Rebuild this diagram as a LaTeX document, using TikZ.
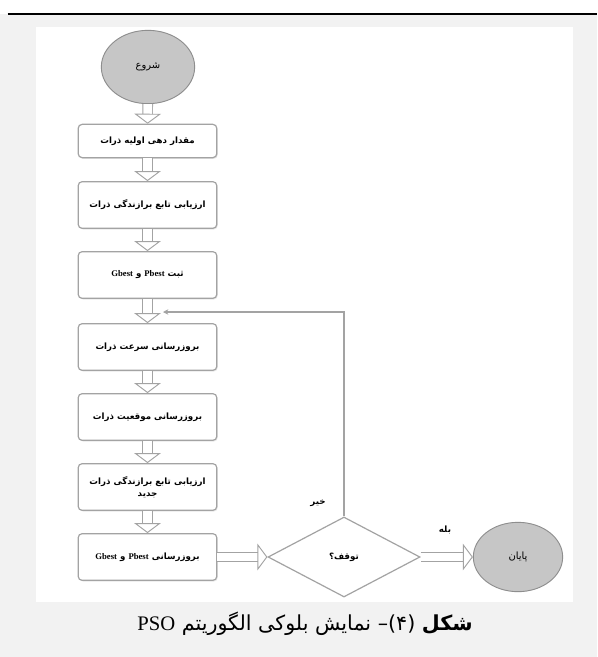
\documentclass[tikz,border=0pt]{standalone}
\usepackage{fontspec}
\setmainfont{Liberation Serif}
\newfontfamily\farsi[Script=Arabic]{DejaVu Sans}
\TeXXeTstate=1
\usetikzlibrary{shapes.geometric,arrows.meta,shadows}

\definecolor{pagegray}{HTML}{F2F2F2}
\definecolor{linegray}{HTML}{A3A3A3}
\definecolor{termfill}{HTML}{C6C6C6}
\definecolor{termline}{HTML}{8E8E8E}

\newcommand{\enword}[1]{{\rmfamily\bfseries\beginL #1\endL}}

\tikzset{
  block/.style={draw=linegray, line width=0.9pt, rounded corners=3pt, fill=white,
    minimum width=104pt, minimum height=35pt, align=center,
    font=\farsi\fontsize{6.5}{9}\selectfont\bfseries,
    drop shadow={shadow xshift=0.7pt, shadow yshift=-0.9pt, fill=black!18}},
  term/.style={ellipse, draw=termline, line width=0.7pt, fill=termfill, inner sep=0pt,
    font=\farsi\fontsize{7.5}{8}\selectfont},
  test/.style={diamond, draw=linegray, line width=0.9pt, aspect=1.9, inner sep=0pt,
    minimum width=114pt, minimum height=60pt, font=\farsi\fontsize{6.5}{8}\selectfont\bfseries},
  hollow/.style={draw=linegray, line width=0.7pt, double=white, double distance=6.5pt,
    -{Triangle[open, width=20pt, length=7.5pt]}},
  back/.style={draw=linegray, line width=1pt, -{Stealth[length=4pt, width=4pt]}},
  tag/.style={font=\farsi\fontsize{6.5}{7}\selectfont\bfseries},
}

\begin{document}
\begin{tikzpicture}[x=0.75pt, y=-0.75pt]
\useasboundingbox (0,0) rectangle (597,657);
\fill[white] (0,0) rectangle (597,657);
\fill[pagegray] (0,14) rectangle (597,657);
\fill[white] (36,27) rectangle (573,602);
\draw[line width=1.5pt] (7.6,13.7) -- (597,13.7);

% start / end
\node[term, minimum width=70pt, minimum height=55pt] (start) at (148,67) {\beginR شروع\endR};
\node[term, minimum width=67pt, minimum height=52pt] (fin) at (518,557) {\beginR پایان\endR};

% blocks
\node[block, minimum height=25pt] (b1) at (147.5,141) {\beginR مقدار دهی اولیه ذرات\endR};
\node[block] (b2) at (147.5,205) {\beginR ارزیابی تابع برازندگی ذرات\endR};
\node[block] (b3) at (147.5,275) {\beginR ثبت \enword{Pbest} و \enword{Gbest}\endR};
\node[block] (b4) at (147.5,347) {\beginR بروزرسانی سرعت ذرات\endR};
\node[block] (b5) at (147.5,417) {\beginR بروزرسانی موقعیت ذرات\endR};
\node[block] (b6) at (147.5,487) {\beginR ارزیابی تابع برازندگی ذرات\endR\\\beginR جدید\endR};
\node[block] (b7) at (147.5,557) {\beginR بروزرسانی \enword{Pbest} و \enword{Gbest}\endR};

% decision
\node[test] (stop) at (344,557) {\beginR توقف؟\endR};
\node[tag] (no) at (318,503) {\beginR خیر\endR};
\node[tag] (yes) at (445,530) {\beginR بله\endR};

% arrows
\draw[hollow] (start) -- (b1);
\draw[hollow] (b1) -- (b2);
\draw[hollow] (b2) -- (b3);
\draw[hollow] (b3) -- (b4);
\draw[hollow] (b4) -- (b5);
\draw[hollow] (b5) -- (b6);
\draw[hollow] (b6) -- (b7);
\draw[hollow] (b7) -- (stop);
\draw[hollow] (stop) -- (fin);

\coordinate (join) at (163,312);
\draw[back] (stop.north) |- (join);

% caption
\node[font=\farsi\fontsize{15.5}{18}\selectfont] (cap) at (305,624)
  {\beginR{\bfseries شکل} (۴)– نمایش بلوکی الگوریتم {\rmfamily\beginL PSO\endL}\endR};
\end{tikzpicture}
\end{document}
